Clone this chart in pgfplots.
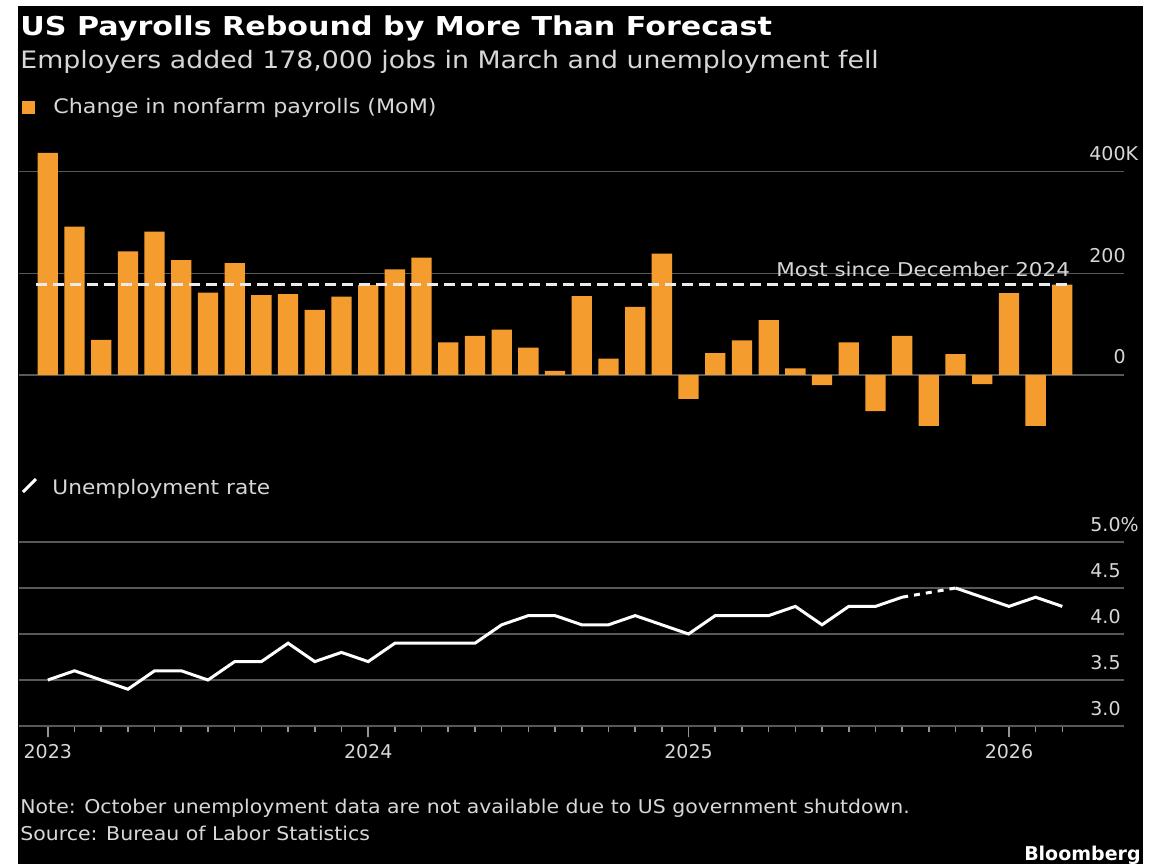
\documentclass[border=0pt]{standalone}
\usepackage{pgfplots}
\usepackage{pgfplotstable}
\pgfplotsset{compat=1.18}
\usepackage{fontspec}
\setmainfont{DejaVu Sans}
\definecolor{barorange}{RGB}{244,157,46}
\definecolor{gridgray}{RGB}{88,88,88}
\definecolor{zerogray}{RGB}{150,150,150}
\definecolor{txtgray}{RGB}{215,215,215}

\pgfplotstableread{
i v
0 437
1 292
2 69
3 243
4 282
5 226
6 162
7 220
8 157
9 159
10 128
11 154
12 177
13 208
14 231
15 64
16 77
17 89
18 54
19 8
20 155
21 32
22 134
23 239
24 -47
25 43
26 68
27 108
28 13
29 -20
30 64
31 -71
32 77
33 -100
34 41
35 -18
36 161
37 -100
38 178
}\payrolls

\pgfplotstableread{
i u
0 3.5
1 3.6
2 3.5
3 3.4
4 3.6
5 3.6
6 3.5
7 3.7
8 3.7
9 3.9
10 3.7
11 3.8
12 3.7
13 3.9
14 3.9
15 3.9
16 3.9
17 4.1
18 4.2
19 4.2
20 4.1
21 4.1
22 4.2
23 4.1
24 4.0
25 4.2
26 4.2
27 4.2
28 4.3
29 4.1
30 4.3
31 4.3
32 4.4
}\ratea

\pgfplotstableread{
i u
32 4.4
34 4.5
}\rateb

\pgfplotstableread{
i u
34 4.5
35 4.4
36 4.3
37 4.4
38 4.3
}\ratec

\pgfplotsset{
  bbg/.style={
    scale only axis,
    width=552.5pt,
    xmin=-1.079, xmax=40.31,
    axis line style={draw=none},
    /pgf/number format/assume math mode=true,
    yticklabel pos=right,
    ytick style={draw=none},
    ymajorgrids,
    major grid style={gridgray, line width=0.8pt},
    yticklabel style={anchor=base east, inner sep=0pt, xshift=1pt, yshift=5.5pt,
      font=\fontsize{9.5}{11}\selectfont, text=txtgray},
    clip=false,
  }
}

\begin{document}
\begin{tikzpicture}
\useasboundingbox (0,0) rectangle (579pt,432pt);
\fill[white] (0,0) rectangle (579pt,432pt);
\fill[black] (9pt,0) rectangle (571.5pt,429pt);

% titles
\node[anchor=base west, inner sep=0pt, text=white, font=\fontsize{13}{15}\selectfont\bfseries] at (10pt,414pt) {\scalebox{1.16}[1]{US Payrolls Rebound by More Than Forecast}};
\node[anchor=base west, inner sep=0pt, text=txtgray, font=\fontsize{12}{14}\selectfont] at (10pt,397.8pt) {\scalebox{1.115}[1]{Employers added 178,000 jobs in March and unemployment fell}};

% legend 1
\fill[barorange] (11pt,375pt) rectangle (17.5pt,381.5pt);
\node[anchor=base west, inner sep=0pt, text=txtgray, font=\fontsize{10}{12}\selectfont] at (26.5pt,375.3pt) {\scalebox{1.11}[1]{Change in nonfarm payrolls (MoM)}};

% legend 2
\draw[white, line width=1.5pt] (11.5pt,186pt) -- (18pt,192.5pt);
\node[anchor=base west, inner sep=0pt, text=txtgray, font=\fontsize{10}{12}\selectfont] at (26pt,185pt) {\scalebox{1.085}[1]{Unemployment rate}};

% bar axis
\begin{axis}[bbg,
  at={(9.5pt,206.4pt)}, anchor=south west,
  height=155pt,
  ymin=-150, ymax=460,
  xtick=\empty,
  ytick={200,400},
  yticklabels={200,400\rlap{K}},
  extra y ticks={0},
  extra y tick labels={0},
  extra y tick style={grid style={zerogray, line width=0.8pt}},
]
\addplot[ybar, bar width=10.15pt, fill=barorange, draw=none] table[x=i,y=v]{\payrolls};
\addplot[white!92!black, line width=1.6pt, dash pattern=on 5.5pt off 3pt] coordinates {(-0.44,178) (38.3,178)};
\node[anchor=base east, inner sep=0pt, text=txtgray, font=\fontsize{9.5}{11}\selectfont] at (axis cs:38.3,194) {\scalebox{1.13}[1]{Most since December 2024}};
\end{axis}

% line axis
\begin{axis}[bbg,
  at={(9.5pt,69pt)}, anchor=south west,
  height=101.2pt,
  ymin=3, ymax=5.2,
  ytick={3.5,4,4.5,5},
  yticklabels={3.5,4.0,4.5,5.0\rlap{\%}},
  extra y ticks={3},
  extra y tick labels={3.0},
  extra y tick style={grid style={zerogray, line width=0.8pt}},
  yticklabel style={xshift=-8pt},
  xtick={0,12,24,36},
  xticklabels={2023,2024,2025,2026},
  minor xtick={0,...,38},
  xtick pos=bottom,
  tick align=outside,
  xtick style={zerogray, line width=0.8pt},
  major tick length=5.5pt,
  minor tick length=3pt,
  xticklabel style={anchor=base, yshift=-10.5pt, font=\fontsize{9.5}{11}\selectfont, text=txtgray},
]
\addplot[white, line width=1.5pt] table[x=i,y=u]{\ratea};
\addplot[white, line width=1.5pt, dash pattern=on 3pt off 3pt] table[x=i,y=u]{\rateb};
\addplot[white, line width=1.5pt] table[x=i,y=u]{\ratec};
\end{axis}

% footnotes
\node[anchor=base west, inner sep=0pt, text=txtgray, font=\fontsize{9.5}{11}\selectfont] at (10pt,25.5pt) {\scalebox{1.077}[1]{Note: October unemployment data are not available due to US government shutdown.}};
\node[anchor=base west, inner sep=0pt, text=txtgray, font=\fontsize{9.5}{11}\selectfont] at (10pt,12pt) {\scalebox{1.077}[1]{Source: Bureau of Labor Statistics}};
\node[anchor=base east, inner sep=0pt, text=white, font=\fontsize{9.5}{11}\selectfont\bfseries] at (570.5pt,2pt) {Bloomberg};
\end{tikzpicture}
\end{document}
